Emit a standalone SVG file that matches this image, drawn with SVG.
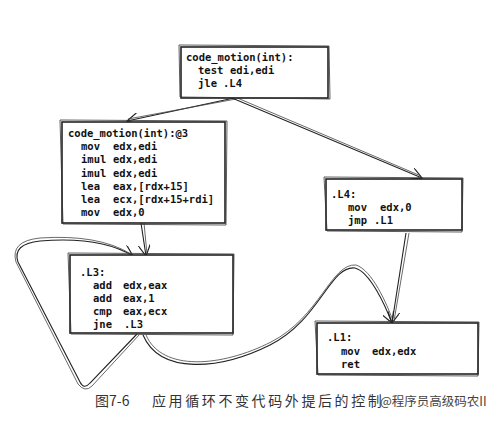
<svg xmlns="http://www.w3.org/2000/svg" width="500" height="428" viewBox="0 0 500 428">
<defs>
<style>
.bx{fill:#fff;stroke:#222;stroke-width:1.6}
.bx2{fill:none;stroke:#333;stroke-width:0.8}
.c{fill:none;stroke:#222;stroke-width:1.1}
.c2{fill:none;stroke:#444;stroke-width:0.8}
.t{font-family:"DejaVu Sans Mono","Liberation Mono",monospace;font-size:10.5px;font-weight:bold;fill:#111}
.cap{font-family:"Noto Sans CJK SC","Noto Sans CJK JP",sans-serif;font-size:14px;fill:#333}
.wm{font-family:"Noto Sans CJK SC","Noto Sans CJK JP",sans-serif;font-size:12.5px;fill:#444}
</style>
<marker id="ah" viewBox="0 0 12 12" refX="11" refY="6" markerWidth="12" markerHeight="12" markerUnits="userSpaceOnUse" orient="auto">
<path d="M0,0 L11,6 L0,12" fill="none" stroke="#222" stroke-width="1.2"/>
</marker>
</defs>
<rect width="500" height="428" fill="#fff"/>
<g id="connectors">
<path class="c" d="M234,98 L127,121" marker-end="url(#ah)"/>
<path class="c2" d="M236,99 L128,119"/>
<path class="c" d="M232,98 L422,178" marker-end="url(#ah)"/>
<path class="c2" d="M235,97 L421,176"/>
<path class="c" d="M141,223 L146,256" marker-end="url(#ah)"/>
<path class="c2" d="M144,223 L147,254"/>
<path class="c" d="M137,334 L90,383 Q84,390 80,382 L18,262 Q12,244 40,241 Q100,236 133,256" marker-end="url(#ah)"/>
<path class="c2" d="M139,335 L92,386 Q85,393 78,384 L16,262 Q10,241 40,238 Q98,234 131,254"/>
<path class="c" d="M143,335 C160,375 220,370 270,345 C320,320 330,265 355,268 C370,272 385,305 392,323" marker-end="url(#ah)"/>
<path class="c2" d="M146,335 C162,372 222,367 271,342 C320,317 331,263 356,265 C372,270 387,304 393,321"/>
<path class="c" d="M406,233 L392,323" marker-end="url(#ah)"/>
<path class="c2" d="M409,233 L394,321"/>
</g>
<g id="n_top">
<rect class="bx" x="181" y="47" width="147" height="51"/>
<path class="bx2" d="M179,45 L329,46 L330,99 L180,97 Z"/>
<text class="t" x="186" y="61">code_motion(int):</text>
<text class="t" x="198" y="74">test</text><text class="t" x="230" y="74">edi,edi</text>
<text class="t" x="198" y="87">jle</text><text class="t" x="223" y="87">.L4</text>
</g>
<g id="n_b2">
<rect class="bx" x="62" y="122" width="163" height="101"/>
<path class="bx2" d="M60,120 L227,121 L226,225 L63,224 Z"/>
<text class="t" x="68" y="137">code_motion(int):@3</text>
<text class="t" x="81" y="150">mov</text><text class="t" x="113" y="150">edx,edi</text>
<text class="t" x="81" y="163">imul</text><text class="t" x="113" y="163">edx,edi</text>
<text class="t" x="81" y="177">imul</text><text class="t" x="113" y="177">edx,edi</text>
<text class="t" x="81" y="190">lea</text><text class="t" x="113" y="190">eax,[rdx+15]</text>
<text class="t" x="81" y="203">lea</text><text class="t" x="113" y="203">ecx,[rdx+15+rdi]</text>
<text class="t" x="81" y="216">mov</text><text class="t" x="113" y="216">edx,0</text>
</g>
<g id="n_l4">
<rect class="bx" x="326" y="179" width="136" height="51"/>
<path class="bx2" d="M324,177 L463,178 L462,232 L327,231 Z"/>
<text class="t" x="331" y="198">.L4:</text>
<text class="t" x="348" y="211">mov</text><text class="t" x="380" y="211">edx,0</text>
<text class="t" x="348" y="224">jmp</text><text class="t" x="374" y="224">.L1</text>
</g>
<g id="n_l3">
<rect class="bx" x="70" y="255" width="163" height="78"/>
<path class="bx2" d="M68,253 L234,254 L233,335 L71,334 Z"/>
<text class="t" x="80" y="276">.L3:</text>
<text class="t" x="93" y="289">add</text><text class="t" x="123" y="289">edx,eax</text>
<text class="t" x="93" y="302">add</text><text class="t" x="123" y="302">eax,1</text>
<text class="t" x="93" y="315">cmp</text><text class="t" x="123" y="315">eax,ecx</text>
<text class="t" x="93" y="328">jne</text><text class="t" x="124" y="328">.L3</text>
</g>
<g id="n_l1">
<rect class="bx" x="317" y="323" width="161" height="51"/>
<path class="bx2" d="M315,321 L479,322 L478,376 L318,375 Z"/>
<text class="t" x="327" y="341">.L1:</text>
<text class="t" x="341" y="355">mov</text><text class="t" x="372" y="355">edx,edx</text>
<text class="t" x="341" y="368">ret</text>
</g>
<g id="caption">
<text class="cap" x="95" y="406">图7-6</text>
<text class="cap" x="152" y="406" letter-spacing="2.6">应用循环不变代码外提后的控制</text>
<text class="wm" x="380" y="406">@程序员高级码农II</text>
</g>
</svg>
